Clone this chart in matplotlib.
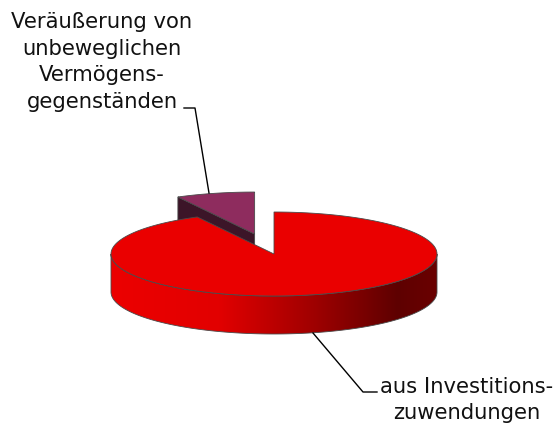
import numpy as np
import matplotlib.pyplot as plt
from matplotlib.patches import Polygon
from matplotlib.colors import LinearSegmentedColormap

# Data
labels = ["aus Investitions-\nzuwendungen",
          "Veräußerung von\nunbeweglichen\nVermögens-\ngegenständen"]
values = [92.2, 7.8]
top_colors = ["#EA0000", "#8E2C5E"]
side_colors = ["#EA0000", "#3C1528"]
explode = [0.0, 0.49]

# projected pie geometry (pixels)
cx, cy = 274, 254
rx, ry = 163, 42
depth = 38
start = 90  # small slice starts at the back, goes counter-clockwise

fig = plt.figure(figsize=(5.59, 4.23), dpi=100)
ax = fig.add_axes([0, 0, 1, 1])
ax.set_xlim(0, 559)
ax.set_ylim(423, 0)
ax.axis("off")


def pt(t, ox, oy, dz=0):
    a = np.radians(t)
    return ox + rx * np.cos(a), oy - ry * np.sin(a) + dz


def arc(t0, t1, ox, oy, dz=0, n=200):
    ts = np.linspace(t0, t1, n)
    a = np.radians(ts)
    return np.column_stack([ox + rx * np.cos(a), oy - ry * np.sin(a) + dz])


total = sum(values)
spans = [v / total * 360 for v in values]
# slice angles: small slice from 90 ccw, big slice the rest
small_t0, small_t1 = start, start + spans[1]
big_t0, big_t1 = small_t1, small_t1 + spans[0]

edge = "#4a4a4a"

# --- small slice (exploded, behind) ---
mid = np.radians((small_t0 + small_t1) / 2)
ox = cx + explode[1] * rx * np.cos(mid)
oy = cy - explode[1] * ry * np.sin(mid)
x1, y1 = pt(small_t1, ox, oy)
side = Polygon([(ox, oy), (x1, y1), (x1, y1 + depth), (ox, oy + depth)],
               closed=True, fc=side_colors[1], ec=edge, lw=0.6, zorder=1)
ax.add_patch(side)
top = np.vstack([[ox, oy], arc(small_t0, small_t1, ox, oy), [ox, oy]])
ax.add_patch(Polygon(top, closed=True, fc=top_colors[1], ec=edge, lw=0.6, zorder=2))

# --- big slice: outer side with gradient ---
s0, s1 = 180, 360
side_pts = np.vstack([arc(s0, s1, cx, cy), arc(s1, s0, cx, cy, depth)])
side_poly = Polygon(side_pts, closed=True, fc="none", ec=edge, lw=0.6, zorder=4)
ax.add_patch(side_poly)
cmap = LinearSegmentedColormap.from_list(
    "side", [(0.0, "#EC0000"), (0.33, "#E20000"), (0.62, "#A00000"),
             (0.88, "#5E0000"), (1.0, "#6A0000")])
grad = np.linspace(0, 1, 256)[None, :]
im = ax.imshow(grad, cmap=cmap, extent=(cx - rx, cx + rx, cy + ry + depth, cy - ry),
               aspect="auto", zorder=3)
im.set_clip_path(Polygon(side_pts, closed=True, transform=ax.transData))

top_big = np.vstack([[cx, cy], arc(big_t0, big_t1, cx, cy), [cx, cy]])
ax.add_patch(Polygon(top_big, closed=True, fc=top_colors[0], ec=edge, lw=0.6, zorder=5))

# --- labels with leader lines ---
fs = 15.2
ax.text(102, 62, labels[1], ha="center", va="center", fontsize=fs,
        family="DejaVu Sans", linespacing=1.43, color="#111111")
ax.plot([184, 195, 209], [108, 108, 193], color="black", lw=1, zorder=6)

ax.text(467, 400, labels[0], ha="center", va="center", fontsize=fs,
        family="DejaVu Sans", linespacing=1.43, color="#111111")
ax.plot([313, 363, 377], [333, 392, 392], color="black", lw=1, zorder=6)

fig.savefig("out.png", dpi=100)
